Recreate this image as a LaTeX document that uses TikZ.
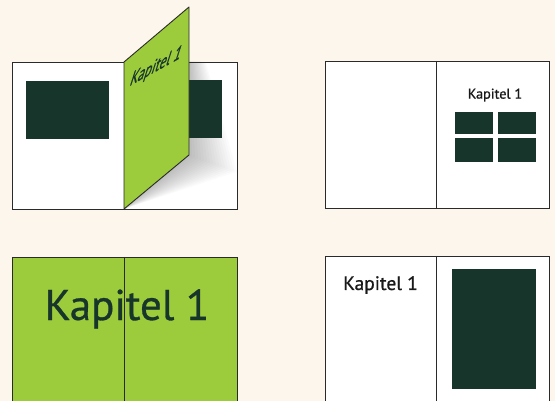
\documentclass[tikz,border=0pt]{standalone}
\usepackage{fontspec}
\setmainfont{PT Sans}
\newfontfamily\labelfont[FakeBold=0.7]{PT Sans}
\begin{document}
\begin{tikzpicture}[x=1pt,y=-1pt]
\definecolor{bgc}{HTML}{FDF6EC}
\definecolor{leaf}{HTML}{9CCB3B}
\definecolor{ink}{HTML}{17352A}
\definecolor{edge}{HTML}{2A2A2A}
\tikzset{
  page/.style={draw=edge, line width=0.9pt},
  spine/.style={draw=edge, line width=0.8pt},
  block/.style={fill=ink},
  label/.style={inner sep=0pt, text=black!90}
}
\useasboundingbox (0,0) rectangle (555,401);
\clip (0,0) rectangle (555,401);
\fill[bgc] (0,0) rectangle (555,401);

% ---- panel 1: page turning
\fill[white] (12,62) rectangle (237,209);
\begin{scope}
  \clip (124,62) rectangle (237,209);
  \foreach \d in {3,6,...,48} {
    \fill[black, opacity=0.014] (124,209) -- ({189+\d},{155+0.35*\d}) -- ({189+0.35*\d},62) -- (124,62) -- cycle;
  }
\end{scope}
\fill[block] (26,81) rectangle (109,139);
\fill[block] (170,80) rectangle (222,138);
\draw[page] (12,62) rectangle (237,209);
\draw[spine] (124,62) -- (124,209);
\filldraw[fill=leaf, draw=edge, line width=0.9pt, line join=round] (124,62) -- (189,7) -- (189,155) -- (124,209) -- cycle;
\node[inner sep=0pt, text=ink, font=\labelfont\fontsize{14.8}{14.8}\selectfont, cm={0.891,0.489,0.454,1.419,(0,0)}] (t1) at (156,67) {Kapitel 1};

% ---- panel 2
\fill[white] (325,61) rectangle (549,208);
\draw[page] (325,61) rectangle (549,208);
\draw[spine] (436,61) -- (436,208);
\node[label, font=\labelfont\fontsize{14.2}{14.2}\selectfont] (t2) at (495,95) {Kapitel 1};
\fill[block] (455,112) rectangle (493,134);
\fill[block] (498,112) rectangle (536,134);
\fill[block] (455,138) rectangle (493,162);
\fill[block] (498,138) rectangle (536,162);

% ---- panel 3
\fill[leaf] (12,257) rectangle (237,420);
\draw[page] (12,257) rectangle (237,420);
\draw[spine] (124,257) -- (124,420);
\node[inner sep=0pt, anchor=base, text=ink, font=\labelfont\fontsize{43}{43}\selectfont] (t3) at (127,320) {Kapitel 1};

% ---- panel 4
\fill[white] (325,256) rectangle (549,420);
\draw[page] (325,256) rectangle (549,420);
\draw[spine] (436,256) -- (436,420);
\node[label, anchor=base west, font=\labelfont\fontsize{19.5}{19.5}\selectfont] (t4) at (343,290) {Kapitel 1};
\fill[block] (452,269) rectangle (536,389);
\end{tikzpicture}
\end{document}
